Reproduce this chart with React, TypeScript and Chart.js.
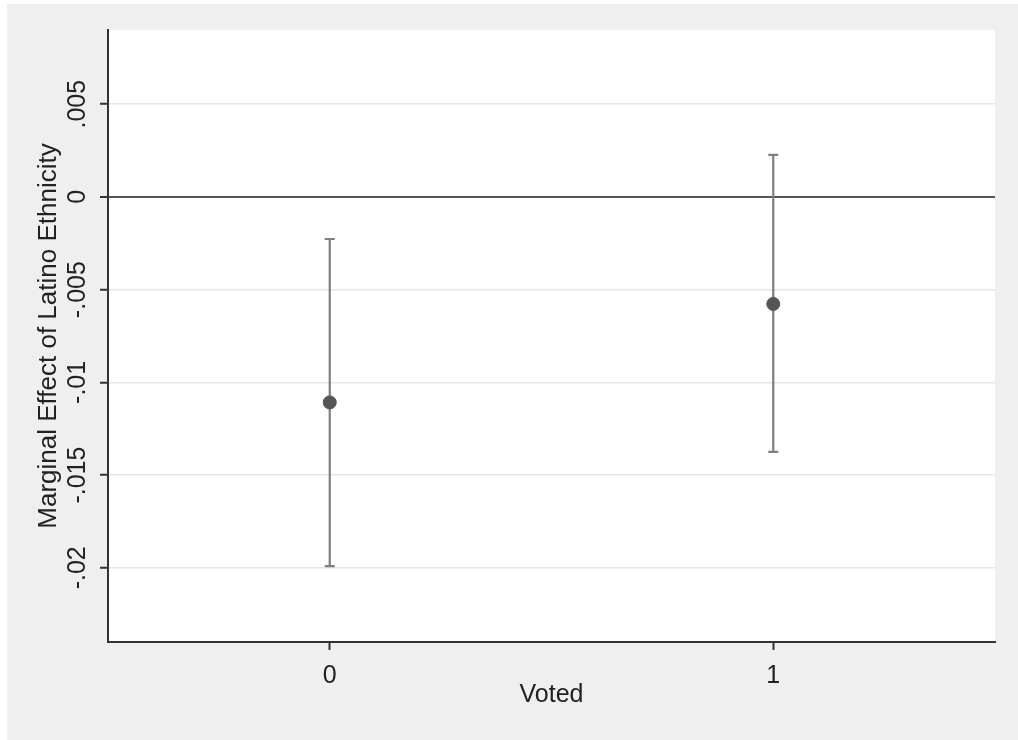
import React, { useEffect, useRef } from "react";
import { Chart, registerables } from "chart.js";

Chart.register(...registerables);

// Data
const categories = [0, 1];
const estimates = [-0.01108, -0.00577];
const lowerCI = [-0.01991, -0.01375];
const upperCI = [-0.00227, 0.00227];
const yTickValues = [-0.02, -0.015, -0.01, -0.005, 0, 0.005];
const yTickLabels = ["-.02", "-.015", "-.01", "-.005", "0", ".005"];
const xTickValues = [0, 1];
const xTickLabels = ["0", "1"];

const FONT = "'Liberation Sans', Arial, sans-serif";

const backgroundPlugin = {
  id: "stataBackground",
  beforeDraw(chart: any) {
    const { ctx, width, height, chartArea } = chart;
    ctx.save();
    ctx.fillStyle = "#ffffff";
    ctx.fillRect(0, 0, width, height);
    ctx.fillStyle = "#efefef";
    ctx.fillRect(7, 4, width - 7, height - 4);
    ctx.fillStyle = "#ffffff";
    ctx.fillRect(chartArea.left, chartArea.top, chartArea.right - chartArea.left, chartArea.bottom - chartArea.top);
    ctx.restore();
  },
};

const errorBarPlugin = {
  id: "errorBars",
  beforeDatasetsDraw(chart: any) {
    const { ctx, scales } = chart;
    const xs = scales.x;
    const ys = scales.y;
    ctx.save();
    ctx.strokeStyle = "#7f7f7f";
    ctx.lineWidth = 2.2;
    categories.forEach((c, i) => {
      const x = xs.getPixelForValue(c);
      const yl = ys.getPixelForValue(lowerCI[i]);
      const yu = ys.getPixelForValue(upperCI[i]);
      ctx.beginPath();
      ctx.moveTo(x, yl);
      ctx.lineTo(x, yu);
      ctx.moveTo(x - 5, yl);
      ctx.lineTo(x + 5, yl);
      ctx.moveTo(x - 5, yu);
      ctx.lineTo(x + 5, yu);
      ctx.stroke();
    });
    ctx.restore();
  },
};

export default function App() {
  const ref = useRef<HTMLCanvasElement | null>(null);

  useEffect(() => {
    if (!ref.current) return;
    const chart = new Chart(ref.current, {
      type: "scatter",
      data: {
        datasets: [
          {
            data: categories.map((c, i) => ({ x: c, y: estimates[i] })),
            backgroundColor: "#555555",
            borderColor: "#555555",
            pointRadius: 6.5,
            pointHoverRadius: 6.5,
            showLine: false,
          },
        ],
      },
      options: {
        animation: false,
        responsive: false,
        events: [],
        layout: { padding: { left: 0, top: 30, right: 23, bottom: 0 } },
        plugins: {
          legend: { display: false },
          tooltip: { enabled: false },
        },
        scales: {
          x: {
            type: "linear",
            min: -0.5,
            max: 1.5,
            afterBuildTicks: (scale: any) => {
              scale.ticks = xTickValues.map((v) => ({ value: v }));
            },
            afterFit: (scale: any) => {
              scale.height = 98;
            },
            grid: {
              drawOnChartArea: false,
              drawTicks: true,
              tickLength: 8,
              tickColor: "#333333",
              tickWidth: 2,
            },
            border: { display: true, color: "#333333", width: 2 },
            ticks: {
              color: "#222222",
              font: { family: FONT, size: 25 },
              padding: 11,
              maxRotation: 0,
              callback: (v: any) => {
                const idx = xTickValues.indexOf(Number(v));
                return idx >= 0 ? xTickLabels[idx] : "";
              },
            },
            title: {
              display: true,
              text: "Voted",
              color: "#222222",
              font: { family: FONT, size: 25 },
              padding: { top: 0, bottom: 30 },
            },
          },
          y: {
            type: "linear",
            min: -0.024,
            max: 0.009,
            afterBuildTicks: (scale: any) => {
              scale.ticks = yTickValues.map((v) => ({ value: v }));
            },
            afterFit: (scale: any) => {
              scale.width = 108;
            },
            grid: {
              drawOnChartArea: true,
              drawTicks: true,
              tickLength: 8,
              tickColor: "#333333",
              tickWidth: 2,
              color: (ctx: any) => (ctx.tick && ctx.tick.value === 0 ? "#555555" : "#e6e6e6"),
              lineWidth: (ctx: any) => (ctx.tick && ctx.tick.value === 0 ? 2 : 1.5),
            },
            border: { display: true, color: "#333333", width: 2 },
            ticks: {
              color: "#222222",
              font: { family: FONT, size: 25 },
              minRotation: 90,
              maxRotation: 90,
              crossAlign: "center",
              padding: -7,
              callback: (v: any) => {
                const idx = yTickValues.findIndex((t) => Math.abs(t - Number(v)) < 1e-9);
                return idx >= 0 ? yTickLabels[idx] : "";
              },
            },
            title: {
              display: true,
              text: "Marginal Effect of Latino Ethnicity",
              color: "#222222",
              font: { family: FONT, size: 26 },
              padding: { top: 33, bottom: 0 },
            },
          },
        },
      },
      plugins: [backgroundPlugin, errorBarPlugin],
    } as any);
    return () => chart.destroy();
  }, []);

  return (
    <div style={{ position: "absolute", left: 0, top: 0, width: 1018, height: 740 }}>
      <canvas ref={ref} width={1018} height={740} />
    </div>
  );
}
